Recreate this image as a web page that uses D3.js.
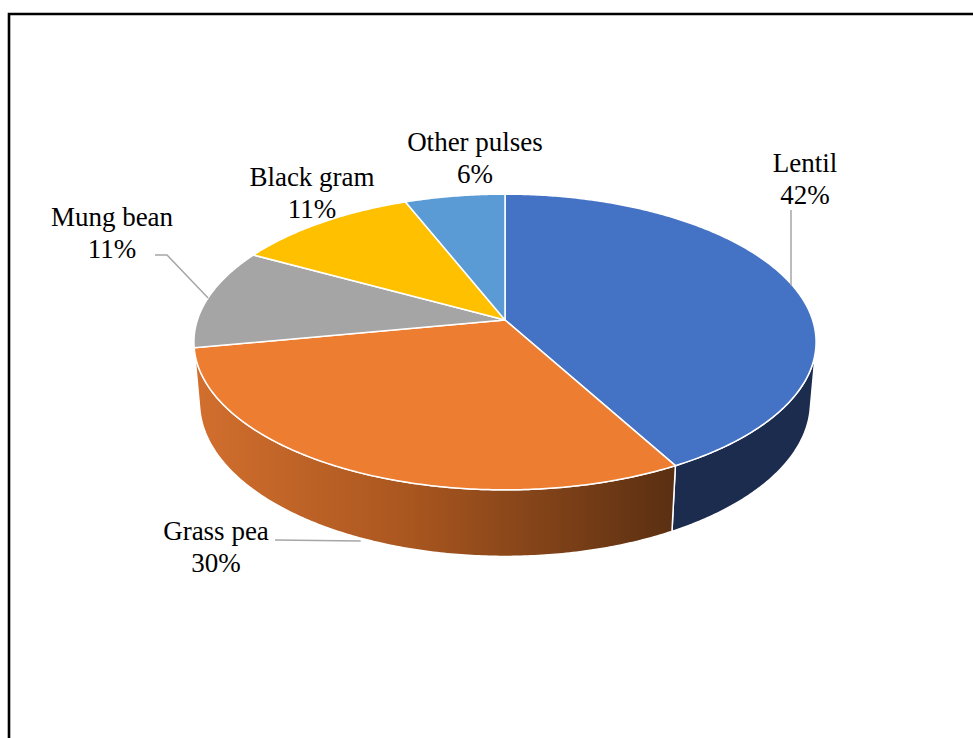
<!DOCTYPE html>
<html>
<head>
<meta charset="utf-8">
<script src="https://cdn.jsdelivr.net/npm/d3@7"></script>
<style>
  html, body { margin: 0; padding: 0; background: #fff; }
  svg { display: block; }
  .lbl { font-family: "Times New Roman", "Liberation Serif", "DejaVu Serif", serif; }
</style>
</head>
<body>
<script>
// Pulse production shares
const categories = ["Lentil", "Grass pea", "Mung bean", "Black gram", "Other pulses"];
const shares = [42, 30, 11, 11, 6];
const percentLabels = ["42%", "30%", "11%", "11%", "6%"];

const topColors = ["#4472c4", "#ed7d31", "#a5a5a5", "#ffc000", "#5b9bd5"];
const sideColors = ["#1c2c4f", "url(#sideOrange)", "#636363", "#997300", "#375d80"];

const W = 973, H = 738;

// 3D view of the pie: radius, tilt, camera distance, thickness
const cx = 505, cy = 320;
const R = 307.6;
const tilt = Math.asin(0.470);
const sinT = Math.sin(tilt), cosT = Math.cos(tilt);
const camDist = 1826;
const depth = 69;

// perspective projection of a rim point (angle clockwise from the far side, height y)
function proj(theta, y) {
  const X = R * Math.sin(theta);
  const Z = R * Math.cos(theta);
  const yc = y * cosT + Z * sinT;
  const zc = Z * cosT - y * sinT;
  const s = camDist / (camDist + zc);
  return [cx + X * s, cy - yc * s];
}

// the side wall faces the viewer where cos(theta) < -R / (D cos tilt)
const cutoff = Math.acos(-R / (camDist * cosT));
const sideVis = [cutoff, 2 * Math.PI - cutoff];

const pie = d3.pie().sort(null).value(d => d.value)
  .startAngle(0).endAngle(2 * Math.PI);
const arcs = pie(categories.map((c, i) => ({ name: c, value: shares[i], i })));

function arcPoints(a0, a1, y) {
  const n = Math.max(2, Math.ceil((a1 - a0) / 0.01));
  return d3.range(n + 1).map(k => proj(a0 + (a1 - a0) * k / n, y));
}

const line = d3.line().curve(d3.curveLinearClosed);

const svg = d3.select("body").append("svg")
  .attr("width", W).attr("height", H);

const defs = svg.append("defs");
const grad = defs.append("linearGradient")
  .attr("id", "sideOrange")
  .attr("gradientUnits", "userSpaceOnUse")
  .attr("x1", proj(sideVis[1], 0)[0]).attr("y1", 0)
  .attr("x2", proj(arcs[0].endAngle, 0)[0]).attr("y2", 0);
grad.append("stop").attr("offset", 0).attr("stop-color", "#d26f2e");
grad.append("stop").attr("offset", 0.45).attr("stop-color", "#a9561f");
grad.append("stop").attr("offset", 1).attr("stop-color", "#5a2f12");

// chart frame
svg.append("path")
  .attr("d", `M9,${H} V14 H${W}`)
  .attr("fill", "none")
  .attr("stroke", "#000")
  .attr("stroke-width", 2.6);

// side walls
const sides = svg.append("g");
arcs.forEach(d => {
  const a0 = Math.max(d.startAngle, sideVis[0]);
  const a1 = Math.min(d.endAngle, sideVis[1]);
  if (a0 >= a1) return;
  const pts = arcPoints(a0, a1, 0).concat(arcPoints(a0, a1, -depth).reverse());
  sides.append("path")
    .attr("d", line(pts))
    .attr("fill", sideColors[d.data.i])
    .attr("stroke", "#fff")
    .attr("stroke-width", 1.5)
    .attr("stroke-linejoin", "round");
});

// top face
const tops = svg.append("g");
arcs.forEach(d => {
  const pts = [[cx, cy]].concat(arcPoints(d.startAngle, d.endAngle, 0));
  tops.append("path")
    .attr("d", line(pts))
    .attr("fill", topColors[d.data.i])
    .attr("stroke", "#fff")
    .attr("stroke-width", 1.5)
    .attr("stroke-linejoin", "round");
});

// data labels: text centre, first baseline, leader routing
const labelLayout = {
  "Lentil":       { x: 805, y: 172, leader: "vertical",  from: [791, 210], level: 0 },
  "Grass pea":    { x: 216, y: 540, leader: "horizontal", from: [275, 540], level: -depth },
  "Mung bean":    { x: 112, y: 226, leader: "elbow",     from: [155, 255], level: 0 },
  "Black gram":   { x: 312, y: 186, leader: null },
  "Other pulses": { x: 475, y: 151, leader: null }
};

const leaders = svg.append("g")
  .attr("fill", "none").attr("stroke", "#a6a6a6").attr("stroke-width", 1.5);
const labels = svg.append("g")
  .attr("class", "lbl")
  .attr("font-size", 27)
  .attr("fill", "#000")
  .attr("text-anchor", "middle");

arcs.forEach(d => {
  const L = labelLayout[d.data.name];
  const mid = (d.startAngle + d.endAngle) / 2;
  if (L.leader) {
    const end = proj(mid, L.level);
    let pts;
    if (L.leader === "vertical") pts = [L.from, [L.from[0], end[1]]];
    else if (L.leader === "horizontal") pts = [L.from, [end[0] + 4, end[1] + 4]];
    else pts = [L.from, [L.from[0] + 12, L.from[1]], end];
    leaders.append("path").attr("d", d3.line()(pts));
  }
  const t = labels.append("text").attr("x", L.x).attr("y", L.y);
  t.append("tspan").attr("x", L.x).text(d.data.name);
  t.append("tspan").attr("x", L.x).attr("dy", 32).text(percentLabels[d.data.i]);
});
</script>
</body>
</html>
